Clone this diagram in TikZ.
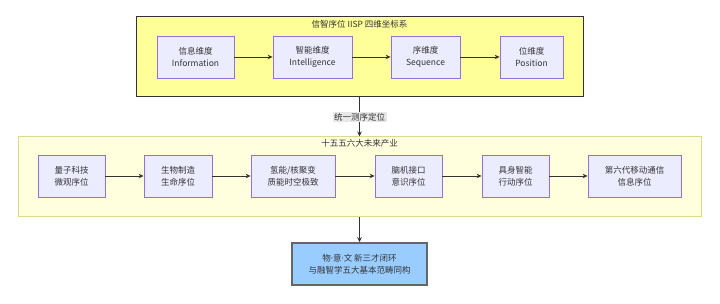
\documentclass[tikz,border=0pt]{standalone}
\usepackage{fontspec}
\setmainfont{Noto Sans CJK SC}
\newfontfamily\latinf{Noto Sans}
\usetikzlibrary{arrows.meta}
\definecolor{nodefill}{HTML}{ECECFF}
\definecolor{nodedraw}{HTML}{9370DB}
\definecolor{topfill}{HTML}{FFFF99}
\definecolor{topdraw}{HTML}{333333}
\definecolor{botfill}{HTML}{FFFFDE}
\definecolor{botdraw}{HTML}{DADA8A}
\definecolor{finfill}{HTML}{99CCFF}
\definecolor{findraw}{HTML}{666666}
\definecolor{edgecol}{HTML}{333333}
\definecolor{lblfill}{HTML}{E8E8E8}
\definecolor{txt}{HTML}{333333}
\newcommand{\mdot}{{\latinf ·}}
\begin{document}
\begin{tikzpicture}[x=1pt,y=-1pt,
  every node/.style={font=\fontsize{8.5}{12}\selectfont, text=txt, inner sep=0pt},
  nodebox/.style={draw=nodedraw, fill=nodefill, line width=0.8pt, align=center, minimum height=42pt},
  clusterbox/.style={line width=1pt},
  flow/.style={draw=edgecol, line width=0.8pt, -{Stealth[length=5pt,width=4.5pt]}},
  ctitle/.style={anchor=center}
]
\useasboundingbox (0,0) rectangle (720,304);
% clusters
\node[clusterbox, draw=topdraw, fill=topfill, minimum width=447pt, minimum height=80pt] (top) at (359.5,57) {};
\node[ctitle] (toptitle) at (359.5,24) {信智序位 IISP 四维坐标系};
\node[clusterbox, draw=botdraw, fill=botfill, minimum width=683pt, minimum height=80pt] (bot) at (359.5,177) {};
\node[ctitle] (bottitle) at (359.5,143.5) {十五五六大未来产业};
% top nodes
\node[nodebox, minimum width=77pt] (info) at (195.5,57) {信息维度\\Information};
\node[nodebox, minimum width=79pt] (intel) at (312.5,57) {智能维度\\Intelligence};
\node[nodebox, minimum width=69pt] (seq) at (425.5,57) {序维度\\Sequence};
\node[nodebox, minimum width=63pt] (pos) at (531.5,57) {位维度\\Position};
% bottom nodes
\node[nodebox, minimum width=67pt] (q) at (71.5,176) {量子科技\\微观序位};
\node[nodebox, minimum width=68pt] (bio) at (178,176) {生物制造\\生命序位};
\node[nodebox, minimum width=84pt] (h) at (293,176) {氢能/核聚变\\质能时空极致};
\node[nodebox, minimum width=67pt] (bci) at (408.5,176) {脑机接口\\意识序位};
\node[nodebox, minimum width=67pt] (emb) at (515.5,176) {具身智能\\行动序位};
\node[nodebox, minimum width=93pt] (sixg) at (634.5,176) {第六代移动通信\\信息序位};
% final
\node[draw=findraw, fill=finfill, line width=1.5pt, align=center, minimum width=135pt, minimum height=42pt] (fin) at (359.5,264) {物\mdot 意\mdot 文 新三才闭环\\与融智学五大基本范畴同构};
% edges
\draw[flow] (info) -- (intel);
\draw[flow] (intel) -- (seq);
\draw[flow] (seq) -- (pos);
\draw[flow] (q) -- (bio);
\draw[flow] (bio) -- (h);
\draw[flow] (h) -- (bci);
\draw[flow] (bci) -- (emb);
\draw[flow] (emb) -- (sixg);
\draw[flow] (top.south) -- node[fill=lblfill, inner sep=1.5pt] (lbl) {统一测序定位} (bot.north);
\draw[flow] (bot.south) -- (fin.north);
\end{tikzpicture}
\end{document}
